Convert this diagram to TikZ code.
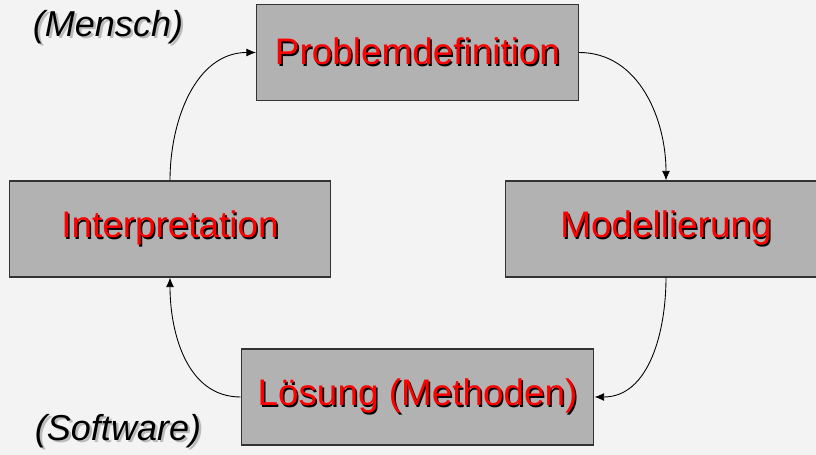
\documentclass[tikz,border=0pt]{standalone}
\usepackage{fontspec}
\setmainfont{Liberation Sans}
\usetikzlibrary{arrows.meta}

\definecolor{bggray}{HTML}{F3F3F3}
\definecolor{boxgray}{HTML}{B2B2B2}
\definecolor{edgegray}{HTML}{333333}
\definecolor{shadegray}{HTML}{BBBBBB}

% red text with a black drop shadow
\newcommand{\redshadow}[1]{\makebox[0pt][l]{\hspace{0.9pt}\raisebox{-0.9pt}{\color{black}#1}}{\color{red}#1}}
% black text with a soft gray drop shadow
\newcommand{\grayshadow}[1]{\makebox[0pt][l]{\hspace{1.4pt}\raisebox{-1.4pt}{\color{shadegray}#1}}{\color{black}#1}}

\tikzset{
  stagebox/.style={draw=edgegray, fill=boxgray, line width=0.6pt, minimum width=6.44cm,
    minimum height=1.92cm, inner sep=0pt, font=\fontsize{21}{25}\selectfont},
  cyclearrow/.style={-{Latex[length=5.5pt,width=4.5pt]}, line width=0.5pt},
  sidenote/.style={font=\fontsize{20.5}{24}\selectfont\itshape}
}

\begin{document}
\begin{tikzpicture}[x=0.02cm, y=-0.02cm]
\fill [bggray] (0,0) rectangle (816,455);
\useasboundingbox (0,0) rectangle (816,455);
\clip (0,0) rectangle (816,455);

\node[stagebox] (pd) at (417.5,52.5) {\redshadow{Problemdefinition}};
\node[stagebox] (ip) at (170,229) {\redshadow{Interpretation}};
\node[stagebox] (mo) at (666,229) {\redshadow{Modellierung}};
\node[stagebox, minimum width=7.06cm] (ls) at (417.5,397) {\redshadow{Lösung (Methoden)}};

\node[sidenote] (mensch) at (108,28) {\grayshadow{(Mensch)}};
\node[sidenote] (soft) at (118,432) {\grayshadow{(Software)}};

\draw [cyclearrow] (ip.north) to [out=90, in=180] (pd.west);
\draw [cyclearrow] (pd.east) to [out=0, in=90] (mo.north);
\draw [cyclearrow] (mo.south) to [out=-90, in=0] (ls.east);
\draw [cyclearrow] (ls.west) to [out=180, in=-90] (ip.south);
\end{tikzpicture}
\end{document}
